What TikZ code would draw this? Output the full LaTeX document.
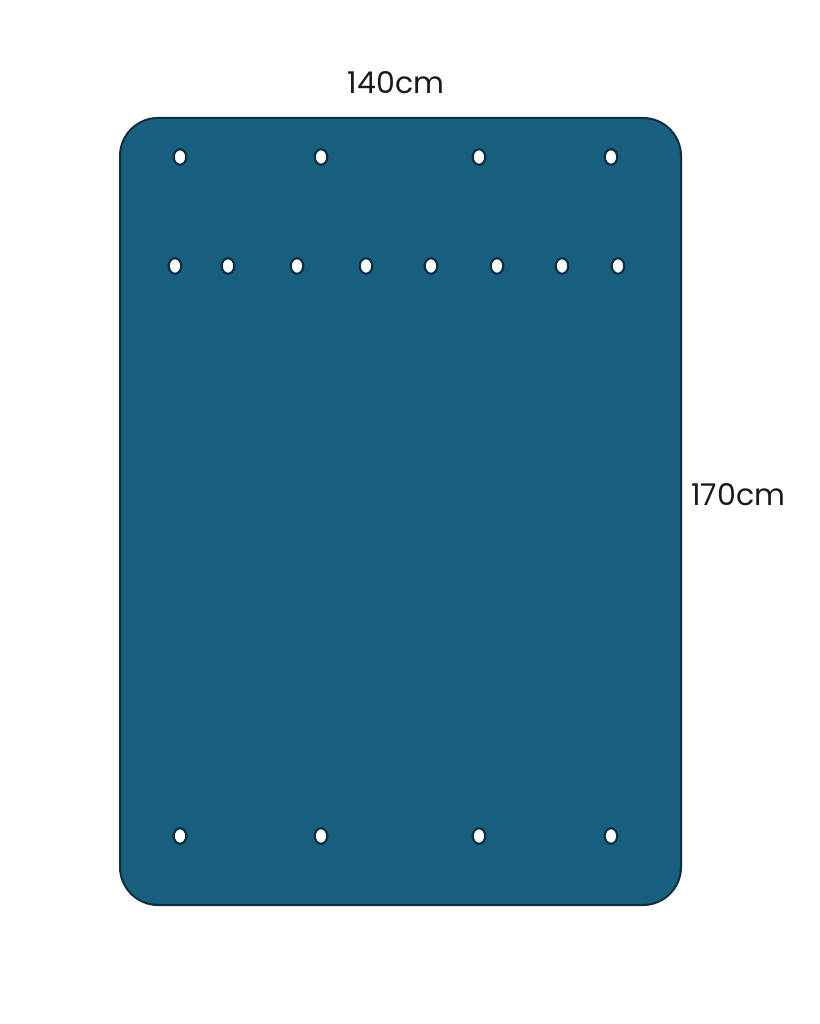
\documentclass[tikz,border=0pt]{standalone}
\usepackage{fontspec}
\setmainfont{Poppins}
\definecolor{panel}{HTML}{17607F}
\definecolor{edge}{HTML}{0E2F40}
\tikzset{
  panelbox/.style={fill=panel, draw=edge, line width=2pt, rounded corners=38pt},
  hole/.style={fill=white, draw=edge, line width=2.2pt},
  dimlabel/.style={font=\fontsize{30}{34}\selectfont, text=black!90, inner sep=0pt}
}
\begin{document}
\begin{tikzpicture}[x=1pt,y=-1pt]
\useasboundingbox (0,0) rectangle (819,1024);
\fill[white] (0,0) rectangle (819,1024);
\draw[panelbox] (120,118) rectangle (681,905);
\foreach \x in {180,321,479,611} {
  \draw[hole] (\x,157) ellipse [x radius=6.3pt, y radius=7.8pt];
  \draw[hole] (\x,836) ellipse [x radius=6.3pt, y radius=7.8pt];
}
\foreach \x in {175,228,297,366,431,497,562,618} {
  \draw[hole] (\x,266) ellipse [x radius=6.3pt, y radius=7.8pt];
}
\node[dimlabel] (w) at (396,83) {140cm};
\node[dimlabel, anchor=west] (h) at (691,495) {170cm};
\end{tikzpicture}
\end{document}
